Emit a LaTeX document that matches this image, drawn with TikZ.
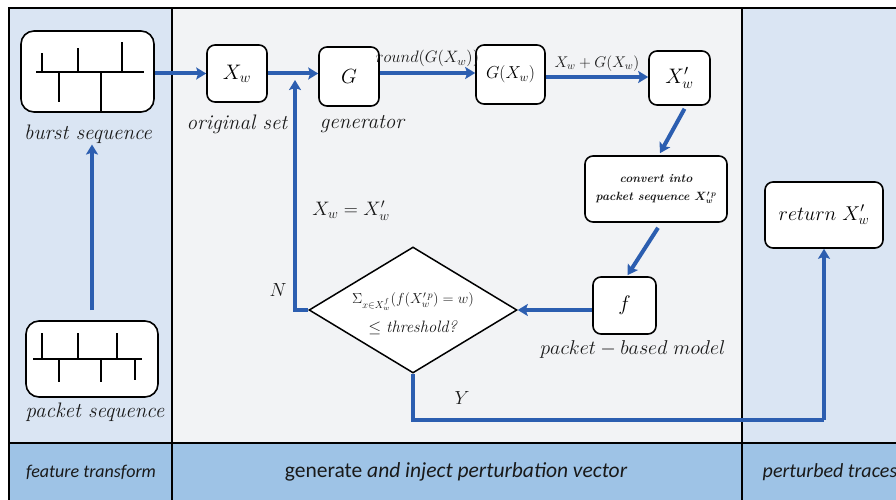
\RequirePackage{fix-cm}
\documentclass[tikz,border=0pt]{standalone}
\usepackage{amsmath,bm}
\usepackage{fontspec}
\newfontfamily\bandfont{Carlito}
\usetikzlibrary{arrows.meta,shapes.geometric,calc}
\definecolor{sidebg}{RGB}{218,229,243}
\definecolor{midbg}{RGB}{242,243,245}
\definecolor{bandbg}{RGB}{158,195,230}
\definecolor{flow}{RGB}{44,94,176}
\definecolor{ink}{RGB}{25,25,25}
\tikzset{
  box/.style={draw=black, line width=1.6pt, fill=white, rounded corners=8pt, inner sep=0pt},
  seqbox/.style={box, rounded corners=13pt},
  arr/.style={draw=flow, line width=4pt, -{Stealth[length=10pt,width=12pt,inset=2pt]}},
  wire/.style={draw=flow, line width=4pt},
  tick/.style={draw=black, line width=1.4pt},
  lbl/.style={text=ink, font=\fontsize{21}{23}\selectfont\itshape, inner sep=1pt},
  mlbl/.style={text=ink, font=\fontsize{16}{18}\selectfont, inner sep=1pt},
  band/.style={text=ink, font=\bandfont\fontsize{18}{20}\selectfont},
  frame/.style={draw=black, line width=1.5pt}
}
\begin{document}
\begin{tikzpicture}[x=1pt,y=-1pt]
\useasboundingbox (0,0) rectangle (896,500);
\clip (0,0) rectangle (896,500);
\fill[white] (0,0) rectangle (896,500);
% column backgrounds
\fill[sidebg] (9,8) rectangle (172,443);
\fill[midbg] (172,8) rectangle (742,443);
\fill[sidebg] (742,8) rectangle (910,443);
\fill[bandbg] (9,443) rectangle (910,520);
% frame and dividers
\draw[frame] (910,8) -- (9,8) -- (9,520);
\draw[frame] (172,8) -- (172,520);
\draw[frame] (742,8) -- (742,520);
\draw[frame] (9,443) -- (910,443);

% feature transform column
\node[seqbox, minimum width=133pt, minimum height=81pt] (burst) at (87.5,71.5) {};
\draw[tick] (36,72) -- (144,72);
\draw[tick] (42,72) -- (42,53);
\draw[tick] (78,72) -- (78,48);
\draw[tick] (122,72) -- (122,42);
\draw[tick] (59,72) -- (59,102);
\draw[tick] (101,72) -- (101,111);
\node[lbl] (burstlbl) at (88,134) {burst sequence};

\node[seqbox, minimum width=132pt, minimum height=76pt] (packet) at (92,359) {};
\draw[tick] (33,359) -- (142,359);
\draw[tick] (42,359) -- (42,333);
\draw[tick] (78,359) -- (78,333);
\draw[tick] (117,359) -- (117,333);
\draw[tick] (59,359) -- (59,382);
\draw[tick] (101,359) -- (101,382);
\draw[tick] (135,359) -- (135,380);
\node[lbl] (packetlbl) at (95,412) {packet sequence};

% generation loop
\node[box, minimum width=60pt, minimum height=57pt, font=\fontsize{21}{23}\selectfont] (xw) at (237,73.5) {$X_w$};
\node[lbl] at (237,124) {original set};
\node[box, minimum width=60pt, minimum height=59pt, font=\fontsize{20.5}{22}\selectfont] (g) at (349,76.5) {$G$};
\node[lbl] at (362,124) {generator};
\node[box, minimum width=69pt, minimum height=59pt, font=\fontsize{17.3}{19}\selectfont] (gx) at (510.5,74.5) {$G(X_w)$};
\node[box, minimum width=61pt, minimum height=54pt, font=\fontsize{21}{23}\selectfont] (xwp) at (679.5,78) {$X_w'$};
\node[box, minimum width=142pt, minimum height=66pt, align=center, text=ink,
      font=\fontsize{12}{18}\selectfont\bfseries\itshape] (conv) at (656,189)
      {convert into\\ packet sequence $\bm{X_w'^{\,p}}$};
\node[box, minimum width=63pt, minimum height=57pt, font=\fontsize{21}{23}\selectfont] (f) at (624.5,305.5) {$f$};
\node[mlbl, font=\fontsize{20}{22}\selectfont] at (633,349) {$packet - based\ model$};

\node[draw=black, line width=1.5pt, fill=white, diamond, minimum width=208pt, minimum height=126pt, inner sep=0pt] (dia) at (413,310) {};
\node[text=ink, align=center, font=\fontsize{14.5}{29}\selectfont] at (413,314)
  {$\Sigma_{x\in X_w^f}(f(X_w'^{\,p}) = w)$\\ {\fontsize{16.5}{29}\selectfont$\le$ \textit{threshold?}}};

\node[box, minimum width=118pt, minimum height=66pt, font=\fontsize{20}{22}\selectfont] (ret) at (824,215) {$return\ X_w'$};

% connectors
\draw[arr] (burst.east |- xw.west) -- (xw.west);
\draw[arr] (xw.east) -- (g.west |- xw.east);
\draw[arr] (g.east |- 0,73) -- (gx.west |- 0,73)
  node[midway, above=3pt, mlbl, font=\fontsize{16.5}{18}\selectfont] {$round(G(X_w))$};
\draw[arr] (gx.east |- 0,77) -- (xwp.west |- 0,77)
  node[midway, above=3pt, mlbl, font=\fontsize{15.5}{17}\selectfont] {$X_w + G(X_w)$};
\draw[arr] ([xshift=5pt,yshift=-3pt]xwp.south) -- ([xshift=4pt,yshift=2pt]conv.north);
\draw[arr] ([xshift=2pt,yshift=-5pt]conv.south) -- ([xshift=3pt,yshift=1pt]f.north);
\draw[arr] (f.west |- dia.east) -- (dia.east);
\coordinate (fbtop) at (295,80);
\draw[arr] (dia.west) -| (fbtop);
\coordinate (ybend) at (ret.south |- 0,420);
\draw[wire] (dia.south) |- (ybend);
\draw[arr] (ybend) -- (ret.south);
\draw[arr] (packet.north |- 0,310) -- (burstlbl.south -| packet.north);

\node[mlbl, font=\fontsize{19.5}{21}\selectfont] at (351,211) {$X_w = X_w'$};
\node[mlbl, font=\fontsize{19}{21}\selectfont] at (278,290) {$N$};
\node[mlbl, font=\fontsize{19}{21}\selectfont] at (462,398) {$Y$};

% phase labels
\node[band] at (91,472) {\itshape feature transform};
\node[band, font=\bandfont\fontsize{21.5}{23}\selectfont] at (456,472) {generate \itshape and inject perturbation vector};
\node[band, font=\bandfont\fontsize{20}{22}\selectfont] at (830,472) {\itshape perturbed traces};
\end{tikzpicture}
\end{document}
